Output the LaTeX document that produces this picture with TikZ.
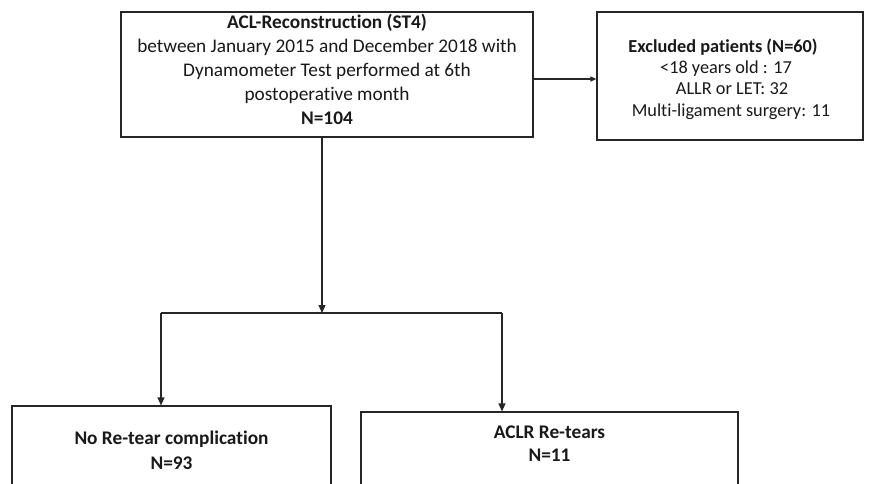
\documentclass[tikz,border=0pt]{standalone}
\usepackage{fontspec}
\setmainfont[RawFeature={-liga}]{Carlito}
\usetikzlibrary{arrows.meta}
\begin{document}
\begin{tikzpicture}[x=1pt,y=-1pt,
  boxst/.style={draw=black!85,line width=1.2pt,rectangle,inner sep=0pt},
  txt/.style={align=center,inner sep=0pt,text=black!90},
  big/.style={font=\fontsize{19.3}{24}\selectfont},
  small/.style={font=\fontsize{18.3}{21.3}\selectfont},
  conn/.style={draw=black!85,line width=1.2pt},
  arr/.style={conn,-{Triangle[length=8pt,width=7pt]}}]
\useasboundingbox[fill=white] (0,0) rectangle (870,483);
% boxes
\node[boxst,minimum width=412pt,minimum height=125pt] (top) at (327,74.5) {};
\node[txt,big] (toptxt) at (327,69) {\textbf{ACL-Reconstruction (ST4)}\\between January 2015 and December 2018 with\\Dynamometer Test performed at 6th\\postoperative month\\\textbf{N=104}};
\node[boxst,minimum width=266pt,minimum height=128pt] (excl) at (730,76) {};
\node[txt,small] (excltxt) at (723,79) {\textbf{Excluded patients (N=60)}\\\hspace*{6pt}<18 years old : 17\\\hspace*{18pt}ALLR or LET: 32\\\hspace*{16pt}Multi-ligament surgery: 11};
\node[boxst,minimum width=319pt,minimum height=100pt] (nore) at (171.5,456) {};
\node[txt,big,font=\fontsize{19.3}{25}\selectfont\bfseries] (noretxt) at (171.5,450) {No Re-tear complication\\N=93};
\node[boxst,minimum width=377pt,minimum height=100pt] (retear) at (549.5,462) {};
\node[txt,font=\fontsize{19.3}{23}\selectfont\bfseries] (reteartxt) at (549.5,444) {ACLR Re-tears\\N=11};
% connectors
\coordinate (split) at (322,313);
\coordinate (lsplit) at (161,313);
\coordinate (rsplit) at (502,313);
\draw[arr] (split |- top.south) -- (split);
\draw[conn] (lsplit) -- (rsplit);
\draw[arr] (lsplit) -- (lsplit |- nore.north);
\draw[arr] (rsplit) -- (rsplit |- retear.north);
\coordinate (midr) at (0,79);
\draw[arr,-{Triangle[length=6pt,width=5pt]}] (top.east |- midr) -- (excl.west |- midr);
\end{tikzpicture}
\end{document}
